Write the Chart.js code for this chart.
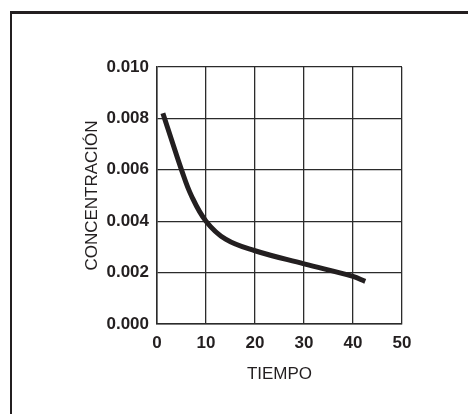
<!DOCTYPE html>
<html><head>
<meta charset="utf-8">
<script src="https://cdn.jsdelivr.net/npm/chart.js"></script>
<style>
  body { margin:0; background:#fff; overflow:hidden }
  #wrap { position:relative; width:468px; height:414px }
  #frame { position:absolute; left:10px; top:11px; width:500px; height:500px; border-top:3px solid #231f20; border-left:2px solid #231f20 }
  canvas { position:absolute; left:0; top:0 }
</style>
</head><body>
<div id="wrap">
  <div id="frame"></div>
  <canvas id="chart" width="468" height="414"></canvas>
</div>
<script>
  // curve
  const tiempo = [1.2, 3, 5, 7, 10, 14, 20, 30, 40, 42.5];
  const concentracion = [0.0082, 0.00715, 0.0060, 0.0050, 0.0040, 0.0033, 0.00285, 0.00234, 0.00185, 0.00166];

  const xTitle = "TIEMPO";
  const yTitle = "CONCENTRACIÓN";

  const ink = '#231f20';
  const tickFont = { family: "'Liberation Sans', Arial, sans-serif", size: 17, weight: 'bold' };
  const titleFont = { family: "'Liberation Sans', Arial, sans-serif", size: 17 };

  new Chart(document.getElementById('chart').getContext('2d'), {
    type: 'line',
    data: {
      datasets: [{
        data: tiempo.map((t, i) => ({ x: t, y: concentracion[i] })),
        borderColor: ink,
        borderWidth: 5,
        borderCapStyle: 'butt',
        pointRadius: 0,
        tension: 0.4,
        fill: false
      }]
    },
    options: {
      responsive: false,
      animation: false,
      layout: { padding: { left: 0, right: 66, top: 67, bottom: 0 } },
      plugins: { legend: { display: false }, tooltip: { enabled: false } },
      scales: {
        x: {
          type: 'linear', min: 0, max: 50,
          ticks: { stepSize: 10, color: ink, font: tickFont, padding: 9, maxRotation: 0 },
          grid: { color: '#2b2b2b', lineWidth: 1.3, drawTicks: false },
          border: { color: '#2b2b2b', width: 1.5 },
          title: { display: true, text: xTitle, color: ink, font: titleFont, padding: { top: 0, bottom: 29 } },
          afterFit: s => { s.height = 90; }
        },
        y: {
          min: 0, max: 0.010,
          ticks: { stepSize: 0.002, color: ink, font: tickFont, padding: 8, callback: v => v.toFixed(3) },
          grid: { color: '#2b2b2b', lineWidth: 1.3, drawTicks: false },
          border: { color: '#2b2b2b', width: 1.5 },
          title: { display: true, text: yTitle, color: ink, font: titleFont, padding: { top: 82, bottom: 0 } },
          afterFit: s => { s.width = 157; }
        }
      }
    }
  });
</script>
</body></html>
